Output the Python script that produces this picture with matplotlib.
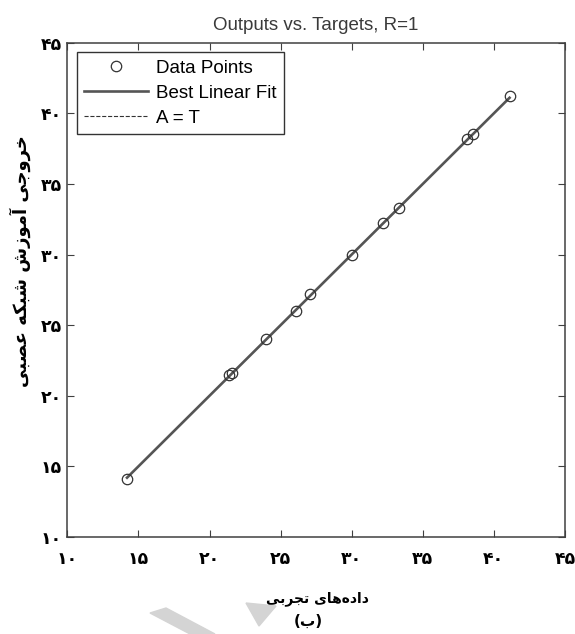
import matplotlib
matplotlib.use('Agg')
import matplotlib.pyplot as plt
from matplotlib.patches import Polygon

# values
targets = [14.2, 21.4, 21.6, 24.0, 26.05, 27.05, 30.0, 32.2, 33.3, 38.1, 38.5, 41.1]
outputs = [14.1, 21.45, 21.6, 24.0, 26.0, 27.2, 30.0, 32.2, 33.3, 38.2, 38.5, 41.2]
ticks = [10, 15, 20, 25, 30, 35, 40, 45]
title = 'Outputs vs. Targets, R=1'
legend_labels = ['Data Points', 'Best Linear Fit', 'A = T']
xlabel = 'داده‌های تجربی'
xlabel2 = '(ب)'
ylabel = 'خروجی آموزش شبکه عصبی'

# tiny arabic shaper (matplotlib does not join arabic letters)
forms = {
    'ا': ('\uFE8D', '\uFE8E', None, None),
    'آ': ('\uFE81', '\uFE82', None, None),
    'ب': ('\uFE8F', '\uFE90', '\uFE91', '\uFE92'),
    'ت': ('\uFE95', '\uFE96', '\uFE97', '\uFE98'),
    'ج': ('\uFE9D', '\uFE9E', '\uFE9F', '\uFEA0'),
    'خ': ('\uFEA5', '\uFEA6', '\uFEA7', '\uFEA8'),
    'د': ('\uFEA9', '\uFEAA', None, None),
    'ر': ('\uFEAD', '\uFEAE', None, None),
    'ز': ('\uFEAF', '\uFEB0', None, None),
    'ش': ('\uFEB5', '\uFEB6', '\uFEB7', '\uFEB8'),
    'ص': ('\uFEB9', '\uFEBA', '\uFEBB', '\uFEBC'),
    'ع': ('\uFEC9', '\uFECA', '\uFECB', '\uFECC'),
    'م': ('\uFEE1', '\uFEE2', '\uFEE3', '\uFEE4'),
    'ه': ('\uFEE9', '\uFEEA', '\uFEEB', '\uFEEC'),
    'و': ('\uFEED', '\uFEEE', None, None),
    'ک': ('\uFB8E', '\uFB8F', '\uFB90', '\uFB91'),
    'ی': ('\uFBFC', '\uFBFD', '\uFBFE', '\uFBFF'),
}
mirror = {'(': ')', ')': '('}


def shape(text):
    out = []
    for i, ch in enumerate(text):
        if ch not in forms:
            if ch != '\u200c':
                out.append(mirror.get(ch, ch))
            continue
        prev = text[i - 1] if i > 0 else ''
        nxt = text[i + 1] if i + 1 < len(text) else ''
        join_prev = prev in forms and forms[prev][2] is not None
        join_next = forms[ch][2] is not None and nxt in forms
        iso, fin, ini, med = forms[ch]
        if join_prev and join_next:
            out.append(med)
        elif join_prev:
            out.append(fin)
        elif join_next:
            out.append(ini)
        else:
            out.append(iso)
    return ''.join(reversed(out))


fa_digits = str.maketrans('0123456789', '۰۱۲۳۴۵۶۷۸۹')
tick_labels = [str(t).translate(fa_digits) for t in ticks]

W, H = 575, 634
fig = plt.figure(figsize=(W / 100, H / 100), dpi=100)
ax = fig.add_axes([67.3 / W, 1 - 537 / H, (565 - 67.3) / W, (537 - 42.7) / H])

lo, hi = min(targets), max(targets)
ax.plot(targets, outputs, 'o', mfc='none', mec='#333333', mew=0.9, ms=7.5,
        label=legend_labels[0], zorder=3)
ax.plot([lo, hi], [lo, hi], '-', color='#555555', lw=1.9, label=legend_labels[1], zorder=2)
ax.plot([lo, hi], [lo, hi], '--', color='#333333', lw=0.8, label=legend_labels[2], zorder=1)

ax.set_xlim(10, 45)
ax.set_ylim(10, 45)
ax.set_xticks(ticks)
ax.set_yticks(ticks)
ax.set_xticklabels(tick_labels, fontweight='bold', fontsize=12.5, family='DejaVu Sans')
ax.set_yticklabels(tick_labels, fontweight='bold', fontsize=12.5, family='DejaVu Sans')
ax.tick_params(direction='in', length=5, width=0.8, color='#404040',
               top=True, right=True)
ax.tick_params(axis='x', pad=9)
ax.tick_params(axis='y', pad=4)
for s in ax.spines.values():
    s.set_color('#404040')
    s.set_linewidth(1.1)

ax.set_title(title, fontsize=13.5, family='Liberation Sans', color='#3a3a3a', pad=9)

fig.text(20 / W, 1 - 261 / H, shape(ylabel), rotation=90, ha='center', va='center',
         fontweight='bold', fontsize=13, family='DejaVu Sans')
fig.text(317 / W, 1 - 599 / H, shape(xlabel), ha='center', va='center',
         fontweight='bold', fontsize=10, family='DejaVu Sans')
fig.text(308 / W, 1 - 621 / H, shape(xlabel2), ha='center', va='center',
         fontweight='bold', fontsize=11, family='DejaVu Sans')

leg = ax.legend(loc='upper left', bbox_to_anchor=(0.019, 0.981), fancybox=False,
                framealpha=1, edgecolor='#333333',
                prop={'family': 'Liberation Sans', 'size': 13.5},
                handlelength=3.4, borderpad=0.4, labelspacing=0.42,
                handletextpad=0.4, borderaxespad=0)
leg.get_frame().set_linewidth(1.0)

# faint grey watermark pieces at the bottom edge
for pts in ([(150, 613), (166, 608), (215, 634), (190, 634)],
            [(246, 603), (276, 606), (259, 626)]):
    fig.patches.append(Polygon([(x / W, 1 - y / H) for x, y in pts], closed=True,
                               transform=fig.transFigure, color='#d4d4d4', zorder=0))

fig.savefig('out.png', dpi=100)
